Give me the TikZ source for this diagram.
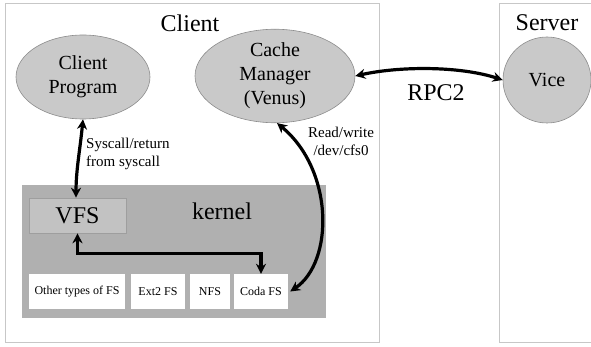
\documentclass[tikz,border=0pt]{standalone}
\usepackage{fontspec}
\setmainfont{Liberation Serif}
\usetikzlibrary{arrows.meta,shapes.geometric}
\begin{document}
\begin{tikzpicture}[x=1pt,y=-1pt,
  frame/.style={draw=black!22, line width=1pt},
  title/.style={font=\fontsize{24}{28}\selectfont, inner sep=0pt},
  bubble/.style={ellipse, draw=black!45, fill=black!21, line width=0.6pt, inner sep=0pt, align=center, font=\fontsize{20}{24}\selectfont},
  kernelbox/.style={rectangle, fill=black!31, draw=none, inner sep=0pt},
  vfsbox/.style={rectangle, fill=black!24, draw=black!38, line width=0.6pt, inner sep=0pt, font=\fontsize{24}{28}\selectfont},
  fsbox/.style={rectangle, fill=white, draw=none, inner sep=0pt, minimum height=35pt, font=\fontsize{12}{14}\selectfont},
  lbl/.style={inner sep=0pt, font=\fontsize{15}{18}\selectfont},
  conn/.style={line width=3.2pt, {Stealth[length=10pt,width=10pt]}-{Stealth[length=10pt,width=10pt]}}
]
\useasboundingbox (0,0) rectangle (591,347);
% outer frames
\draw[frame] (5,4) rectangle (379,342);
\draw[frame] (591,4) -- (499,4) -- (499,342) -- (591,342);
\node[title] (tclient) at (190,23) {Client};
\node[title] (tserver) at (547,23) {Server};

% kernel area
\node[kernelbox, minimum width=304pt, minimum height=133pt] (kernel) at (174,251.5) {};
\node[title] (tkernel) at (222,211) {kernel};
\node[vfsbox, minimum width=97pt, minimum height=35pt] (vfs) at (77.5,215.5) {VFS};

\node[fsbox, minimum width=96pt] (other) at (77,291.5) {Other types of FS};
\node[fsbox, minimum width=54pt] (ext2) at (158,291.5) {Ext2 FS};
\node[fsbox, minimum width=40pt] (nfs) at (210,291.5) {NFS};
\node[fsbox, minimum width=54pt] (coda) at (261,291.5) {Coda FS};

% ellipses
\node[bubble, minimum width=134pt, minimum height=84pt] (prog) at (83,77) {Client\\Program};
\node[bubble, minimum width=160pt, minimum height=86pt] (cache) at (275,76) {Cache\\Manager\\(Venus)};
\node[bubble, minimum width=88pt, minimum height=86pt] (vice) at (547,80) {Vice};

% connectors
\draw[conn] (prog.south) .. controls (80,150) and (76,170) .. ([xshift=-1.5pt]vfs.north);
\node[lbl, anchor=west, align=left] (syslbl) at (86,154) {Syscall/return\\from syscall};

\draw[conn] (vfs.south) -- ++(0,20) -| (coda.north);

\draw[conn] ([xshift=2pt]cache.south) .. controls (334,170) and (334,262) .. ([xshift=2pt]coda.east);
\node[lbl, align=center] (rwlbl) at (341,141) {Read/write\\/dev/cfs0};

\draw[conn] (cache.east) .. controls (400,66) and (460,66) .. (vice.west);
\node[title] (rpc) at (436,93) {RPC2};
\end{tikzpicture}
\end{document}
